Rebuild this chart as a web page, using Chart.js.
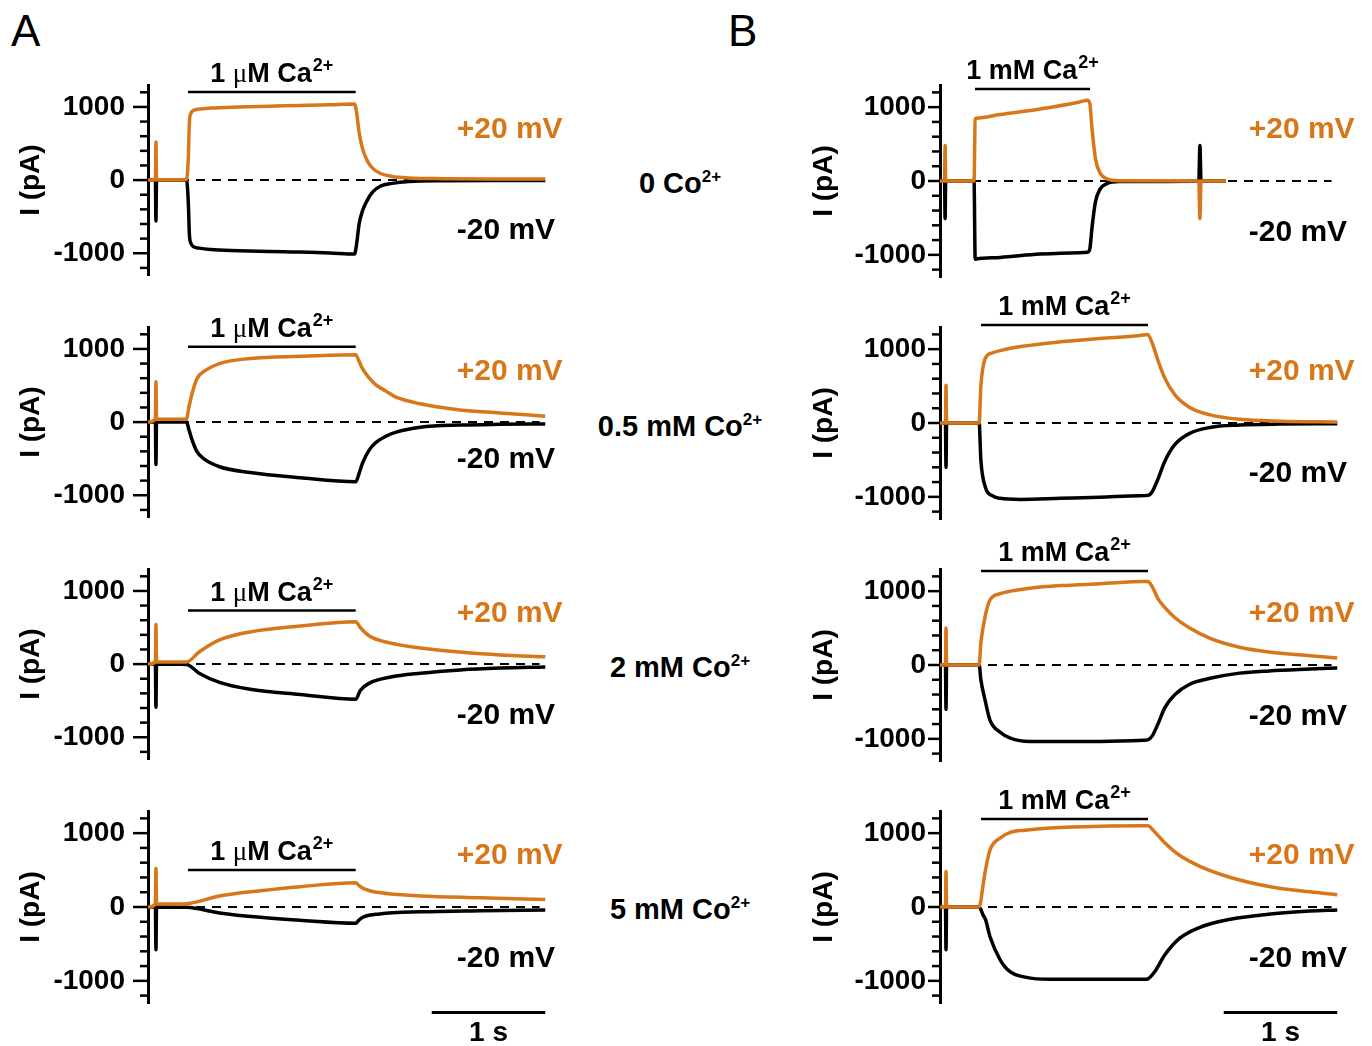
<!DOCTYPE html>
<html>
<head>
<meta charset="utf-8">
<script src="https://cdn.jsdelivr.net/npm/chart.js@4.4.1/dist/chart.umd.min.js"></script>
<style>
html, body { margin: 0; padding: 0; background: #fff; }
#fig { position: relative; width: 1372px; height: 1046px; overflow: hidden; background: #fff; font-family: 'Liberation Sans', Arial, sans-serif; color: #000; }
#fig canvas { position: absolute; }
.letter { position: absolute; font-size: 44px; line-height: 44px; }
.co { position: absolute; left: 680px; transform: translate(-50%, -50%); font-weight: bold; font-size: 29px; line-height: 29px; white-space: nowrap; }
.co sup { font-size: 17px; line-height: 0; vertical-align: 11px; }
</style>
</head>
<body>
<div id="fig">
  <div class="letter" style="left:11px;top:9px">A</div>
  <div class="letter" style="left:728px;top:9px">B</div>
  <div class="co" style="top:183px">0 Co<sup>2+</sup></div>
  <div class="co" style="top:426px">0.5 mM Co<sup>2+</sup></div>
  <div class="co" style="top:667px">2 mM Co<sup>2+</sup></div>
  <div class="co" style="top:909px">5 mM Co<sup>2+</sup></div>
</div>
<script>
const ORANGE = '#d8771a';
const FAMILY = "'Liberation Sans', Arial, sans-serif";

// time (s) and current (pA); "up" = +20 mV, "down" = -20 mV
const tA1 = [0, 0.065, 0.07, 0.075, 0.34, 0.355, 0.365, 0.38, 0.40, 0.45, 0.55, 0.8, 1.2, 1.6, 1.82, 1.84, 1.86, 1.89, 1.93, 1.98, 2.05, 2.15, 2.3, 2.6, 3.0, 3.5];
const upA1 = [0, 0, 520, 5, 5, 300, 800, 920, 950, 970, 985, 1000, 1015, 1030, 1040, 900, 650, 430, 270, 160, 90, 50, 30, 20, 15, 15];
const downA1 = [0, 0, -560, 0, 0, -300, -750, -870, -910, -930, -950, -965, -980, -995, -1010, -850, -600, -420, -280, -160, -80, -45, -20, -8, -5, -5];

const tA2 = [0, 0.065, 0.07, 0.075, 0.34, 0.36, 0.39, 0.43, 0.50, 0.63, 0.90, 1.34, 1.83, 1.86, 1.89, 1.95, 2.0, 2.1, 2.18, 2.4, 2.75, 3.1, 3.5];
const upA2 = [0, 40, 550, 40, 40, 200, 400, 590, 700, 800, 870, 900, 920, 830, 730, 600, 520, 420, 345, 250, 165, 125, 80];
const downA2 = [0, 0, -580, 0, 0, -100, -250, -400, -510, -610, -690, -760, -815, -700, -560, -380, -290, -190, -140, -70, -40, -30, -25];

const tA3 = [0, 0.065, 0.07, 0.075, 0.34, 0.45, 0.63, 0.9, 1.34, 1.83, 1.87, 1.95, 2.13, 2.4, 2.75, 3.1, 3.5];
const upA3 = [0, 30, 540, 30, 30, 165, 330, 440, 520, 580, 500, 385, 290, 220, 165, 125, 100];
const downA3 = [0, 0, -590, 0, -5, -125, -250, -345, -415, -480, -360, -260, -180, -125, -80, -55, -40];

const tA4 = [0, 0.065, 0.07, 0.075, 0.34, 0.63, 0.99, 1.34, 1.83, 1.86, 1.9, 2.04, 2.4, 2.93, 3.5];
const upA4 = [0, 40, 520, 40, 45, 150, 220, 275, 330, 290, 250, 195, 150, 125, 100];
const downA4 = [0, 0, -580, 0, -5, -80, -140, -180, -220, -175, -135, -95, -65, -50, -40];

const tB1 = [0, 0.04, 0.045, 0.05, 0.30, 0.31, 0.32, 0.53, 0.88, 1.23, 1.30, 1.32, 1.34, 1.37, 1.41, 1.47, 1.58, 2.28, 2.29, 2.30, 2.52];
const upB1 = [0, 0, 480, 0, 0, 840, 850, 900, 975, 1070, 1095, 1050, 700, 300, 110, 30, 5, 0, -510, 0, 0];
const downB1 = [0, 0, -510, 0, 0, -1060, -1055, -1035, -990, -970, -965, -920, -620, -280, -110, -35, -8, 0, 480, 0, 0];

const tB2 = [0, 0.048, 0.053, 0.058, 0.345, 0.36, 0.40, 0.46, 0.53, 0.71, 1.06, 1.41, 1.76, 1.83, 1.87, 1.92, 1.98, 2.07, 2.2, 2.38, 2.64, 3.0, 3.5];
const upB2 = [0, 0, 510, 0, 0, 500, 880, 950, 980, 1035, 1100, 1145, 1185, 1200, 1080, 850, 610, 380, 210, 110, 50, 25, 15];
const downB2 = [0, 0, -600, 0, 0, -500, -870, -985, -1020, -1035, -1020, -1005, -985, -980, -930, -760, -520, -290, -140, -60, -28, -15, -10];

const tB3 = [0, 0.048, 0.053, 0.058, 0.345, 0.36, 0.40, 0.44, 0.53, 0.62, 0.79, 1.06, 1.41, 1.80, 1.83, 1.87, 1.92, 1.98, 2.07, 2.2, 2.38, 2.64, 2.9, 3.26, 3.5];
const upB3 = [0, 0, 500, 0, 0, 300, 675, 880, 965, 1000, 1040, 1075, 1100, 1130, 1130, 1060, 900, 780, 640, 500, 360, 240, 175, 125, 95];
const downB3 = [0, 0, -600, 0, 0, -200, -495, -745, -910, -990, -1035, -1035, -1035, -1020, -1015, -960, -800, -580, -400, -260, -180, -110, -80, -55, -40];

const tB4 = [0, 0.048, 0.053, 0.058, 0.345, 0.38, 0.40, 0.44, 0.53, 0.62, 0.75, 0.97, 1.41, 1.80, 1.83, 1.89, 1.98, 2.11, 2.29, 2.56, 2.91, 3.26, 3.5];
const upB4 = [0, 0, 480, 0, 0, 300, 495, 770, 935, 1010, 1040, 1070, 1095, 1100, 1100, 1020, 870, 700, 550, 400, 275, 205, 165];
const downB4 = [0, 0, -580, 0, 0, -110, -165, -400, -715, -880, -950, -980, -980, -980, -975, -880, -650, -425, -275, -165, -95, -55, -40];

// Ca2+ application bars (s, pA) and voltage label levels, panels A1..A4, B1..B4
const caOn = [0.352, 0.352, 0.352, 0.352, 0.308, 0.361, 0.361, 0.361];
const caOff = [1.83, 1.83, 1.83, 1.83, 1.322, 1.833, 1.833, 1.833];
const caLevel = [1206, 1030, 732, 500, 1247, 1328, 1274, 1192];
const posLabel = [690, 690, 690, 690, 690, 690, 690, 690];
const negLabel = [-690, -515, -700, -700, -705, -690, -700, -700];

const yTicks = [-1200, -1000, -800, -600, -400, -200, 0, 200, 400, 600, 800, 1000, 1200];
const zeroLineEnd = 3.45;
const scaleBar = [2.5, 3.5];

const traces = [
    [tA1, upA1, downA1], [tA2, upA2, downA2], [tA3, upA3, downA3], [tA4, upA4, downA4],
    [tB1, upB1, downB1], [tB2, upB2, downB2], [tB3, upB3, downB3], [tB4, upB4, downB4]
];

function drawCaLabel(ctx, cx, base, unit) {
    const bold = 'bold 27px ' + FAMILY;
    const segs = unit === 'u'
        ? [['1 ', bold], ['\u03bc', "27px 'Liberation Serif', serif"], ['M Ca', bold]]
        : [['1 mM Ca', bold]];
    const sup = 'bold 18px ' + FAMILY;
    let w = 0;
    segs.forEach(s => { ctx.font = s[1]; w += ctx.measureText(s[0]).width; });
    ctx.font = sup;
    w += 1 + ctx.measureText('2+').width;
    let x = cx - w / 2;
    ctx.fillStyle = '#000';
    ctx.textAlign = 'left';
    ctx.textBaseline = 'alphabetic';
    segs.forEach(s => {
        ctx.font = s[1];
        ctx.fillText(s[0], x, base);
        x += ctx.measureText(s[0]).width;
    });
    ctx.font = sup;
    ctx.fillText('2+', x + 1, base - 11);
}

const decor = {
    id: 'decor',
    afterDraw(chart, args, o) {
        const { ctx, chartArea } = chart;
        const xs = chart.scales.x, ys = chart.scales.y;
        ctx.save();
        ctx.strokeStyle = '#000';
        ctx.lineCap = 'butt';

        // y-axis tick marks
        ctx.lineWidth = 2.5;
        ys.ticks.forEach(t => {
            const y = ys.getPixelForValue(t.value);
            const len = t.value % 1000 === 0 ? o.majorLen : o.minorLen;
            ctx.beginPath();
            ctx.moveTo(chartArea.left - len, y);
            ctx.lineTo(chartArea.left, y);
            ctx.stroke();
        });

        // Ca2+ application bar
        const x1 = xs.getPixelForValue(o.caOn), x2 = xs.getPixelForValue(o.caOff);
        const yb = ys.getPixelForValue(o.caLevel);
        ctx.lineWidth = 2.5;
        ctx.beginPath();
        ctx.moveTo(x1, yb);
        ctx.lineTo(x2, yb);
        ctx.stroke();
        drawCaLabel(ctx, (x1 + x2) / 2, yb - 10, o.unit);

        // voltage labels
        ctx.font = 'bold 30px ' + FAMILY;
        ctx.textAlign = 'left';
        ctx.textBaseline = 'middle';
        const xl = xs.getPixelForValue(2.72);
        ctx.fillStyle = ORANGE;
        ctx.fillText('+20 mV', xl, ys.getPixelForValue(o.pos));
        ctx.fillStyle = '#000';
        ctx.fillText('-20 mV', xl, ys.getPixelForValue(o.neg));

        // 1 s scale bar
        if (o.scaleBar) {
            const s1 = xs.getPixelForValue(scaleBar[0]), s2 = xs.getPixelForValue(scaleBar[1]);
            const sy = ys.getPixelForValue(-1430);
            ctx.lineWidth = 3;
            ctx.beginPath();
            ctx.moveTo(s1, sy);
            ctx.lineTo(s2, sy);
            ctx.stroke();
            ctx.font = 'bold 28px ' + FAMILY;
            ctx.textAlign = 'center';
            ctx.fillText('1 s', (s1 + s2) / 2, sy + 21);
        }
        ctx.restore();
    }
};

const fig = document.getElementById('fig');

traces.forEach((tr, i) => {
    const col = i < 4 ? 0 : 1;
    const row = i % 4;
    const w = col === 0 ? 600 : 592;
    const h = row === 3 ? 320 : 300;
    const axisW = col === 0 ? 148 : 160;
    const canvas = document.createElement('canvas');
    canvas.width = w;
    canvas.height = h;
    canvas.style.left = (col === 0 ? 0 : 780) + 'px';
    canvas.style.top = (242 * row) + 'px';
    fig.appendChild(canvas);

    const [t, up, down] = tr;
    const pts = vals => t.map((x, k) => ({ x: x, y: vals[k] }));
    const font28 = { family: FAMILY, size: 28, weight: 'bold' };

    new Chart(canvas, {
        type: 'line',
        data: {
            datasets: [
                { data: pts(up), borderColor: ORANGE, borderWidth: 3.5, order: 1 },
                { data: pts(down), borderColor: '#000', borderWidth: 3.5, order: 2 },
                { data: [{ x: 0, y: 0 }, { x: zeroLineEnd, y: 0 }], borderColor: '#000', borderWidth: 2, borderDash: [9, 7], order: 3 }
            ]
        },
        options: {
            responsive: false,
            animation: false,
            layout: { padding: { top: 85, bottom: h - 277, left: 0, right: w - axisW - 3.6 * 113.5 } },
            elements: {
                point: { radius: 0 },
                line: { cubicInterpolationMode: 'monotone', borderCapStyle: 'butt' }
            },
            scales: {
                x: { type: 'linear', display: false, min: 0, max: 3.6 },
                y: {
                    min: -1300,
                    max: 1300,
                    afterFit: s => { s.width = axisW; },
                    afterBuildTicks: s => { s.ticks = yTicks.map(v => ({ value: v })); },
                    border: { display: true, width: 3, color: '#000' },
                    grid: { display: true, drawOnChartArea: false, tickLength: col === 0 ? 15 : 12, tickColor: 'rgba(0,0,0,0)' },
                    ticks: {
                        autoSkip: false,
                        padding: col === 0 ? 8 : 2,
                        color: '#000',
                        font: font28,
                        callback: v => (v % 1000 === 0 ? String(v) : '')
                    },
                    title: { display: true, text: 'I (pA)', color: '#000', font: font28, padding: { top: col === 0 ? 14 : 27, bottom: 0 } }
                }
            },
            plugins: {
                legend: { display: false },
                tooltip: { enabled: false },
                decor: {
                    caOn: caOn[i], caOff: caOff[i], caLevel: caLevel[i],
                    unit: col === 0 ? 'u' : 'm',
                    pos: posLabel[i], neg: negLabel[i],
                    scaleBar: row === 3,
                    majorLen: col === 0 ? 15 : 12,
                    minorLen: 8
                }
            }
        },
        plugins: [decor]
    });
});
</script>
</body>
</html>
